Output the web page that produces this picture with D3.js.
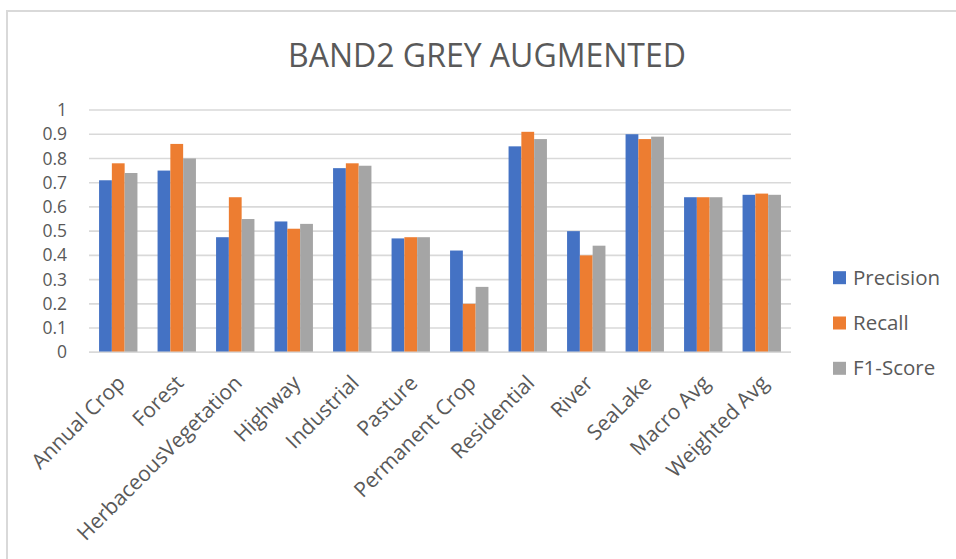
<!DOCTYPE html>
<html>
<head>
<meta charset="utf-8">
<script src="https://cdn.jsdelivr.net/npm/d3@7"></script>
<style>
  html, body { margin: 0; padding: 0; background: #fff; overflow: hidden; }
  svg { display: block; font-family: "Open Sans", "Noto Sans", sans-serif; }
</style>
</head>
<body>
<svg id="chart" width="956" height="559"></svg>
<script>
// Per-class metrics for the BAND2 grey augmented model
const categories = ["Annual Crop", "Forest", "HerbaceousVegetation", "Highway", "Industrial",
  "Pasture", "Permanent Crop", "Residential", "River", "SeaLake", "Macro Avg", "Weighted Avg"];
const precision = [0.71, 0.75, 0.475, 0.54, 0.76, 0.47, 0.42, 0.85, 0.50, 0.90, 0.64, 0.65];
const recall    = [0.78, 0.86, 0.64, 0.51, 0.78, 0.475, 0.20, 0.91, 0.40, 0.88, 0.64, 0.655];
const f1Score   = [0.74, 0.80, 0.55, 0.53, 0.77, 0.475, 0.27, 0.88, 0.44, 0.89, 0.64, 0.65];
const seriesNames = ["Precision", "Recall", "F1-Score"];
const yTicks = [0, 0.1, 0.2, 0.3, 0.4, 0.5, 0.6, 0.7, 0.8, 0.9, 1];

const colors = ["#4472C4", "#ED7D31", "#A5A5A5"];
const series = [precision, recall, f1Score];
const textColor = "#595959";
const gridColor = "#d9d9d9";
const font = "Open Sans, Noto Sans, sans-serif";

const svg = d3.select("#chart");

// Chart frame
svg.append("rect")
  .attr("x", 7).attr("y", 11)
  .attr("width", 1000).attr("height", 600)
  .attr("fill", "none").attr("stroke", gridColor).attr("stroke-width", 2);

const plot = { left: 89, right: 791, top: 110, bottom: 352.3 };

const x = d3.scaleBand()
  .domain(categories)
  .range([plot.left, plot.right])
  .paddingInner(0.344)
  .paddingOuter(0.172);

const xInner = d3.scaleBand()
  .domain(d3.range(series.length))
  .range([0, x.bandwidth()]);

const y = d3.scaleLinear().domain([0, 1]).range([plot.bottom, plot.top]);

// Title
svg.append("text")
  .attr("x", 487).attr("y", 67)
  .attr("text-anchor", "middle")
  .attr("font-size", 32)
  .attr("fill", textColor)
  .text("BAND2 GREY AUGMENTED");

// Gridlines
svg.append("g")
  .selectAll("line")
  .data(yTicks)
  .join("line")
  .attr("x1", plot.left).attr("x2", plot.right)
  .attr("y1", d => y(d)).attr("y2", d => y(d))
  .attr("stroke", gridColor).attr("stroke-width", 1.6);

// Y axis labels
const yAxis = d3.axisLeft(y).tickValues(yTicks).tickSize(0).tickPadding(0)
  .tickFormat(d => d3.format("")(+d.toFixed(1)));
svg.append("g")
  .attr("transform", `translate(${67},0)`)
  .call(yAxis)
  .call(g => g.select(".domain").remove())
  .call(g => g.selectAll("text")
    .attr("fill", textColor)
    .attr("font-size", 17.5)
    .attr("font-family", font));

// Bars
const groups = svg.append("g")
  .selectAll("g")
  .data(categories)
  .join("g")
  .attr("transform", d => `translate(${x(d)},0)`);

groups.selectAll("rect")
  .data((d, i) => series.map((s, k) => ({ k, v: s[i] })))
  .join("rect")
  .attr("x", d => xInner(d.k))
  .attr("width", xInner.bandwidth())
  .attr("y", d => y(d.v))
  .attr("height", d => y(0) - y(d.v))
  .attr("fill", d => colors[d.k]);

// Baseline
svg.append("line")
  .attr("x1", plot.left).attr("x2", plot.right)
  .attr("y1", y(0)).attr("y2", y(0))
  .attr("stroke", gridColor).attr("stroke-width", 1.6);

// X axis category labels (rotated)
const xAxis = d3.axisBottom(x).tickSize(0).tickPadding(0);
svg.append("g")
  .attr("transform", `translate(0,${plot.bottom})`)
  .call(xAxis)
  .call(g => g.select(".domain").remove())
  .call(g => g.selectAll("text")
    .attr("fill", textColor)
    .attr("font-size", 21)
    .attr("font-family", font)
    .attr("text-anchor", "end")
    .attr("dy", null)
    .attr("y", 0)
    .attr("transform", "translate(8,32) rotate(-45)"));

// Legend
const legend = svg.append("g")
  .selectAll("g")
  .data(seriesNames)
  .join("g")
  .attr("transform", (d, i) => `translate(833,${277.7 + i * 45.3})`);
legend.append("rect")
  .attr("x", 0).attr("y", -6.5)
  .attr("width", 13).attr("height", 13)
  .attr("fill", (d, i) => colors[i]);
legend.append("text")
  .attr("x", 20).attr("y", 0)
  .attr("dy", "0.35em")
  .attr("font-size", 20.5)
  .attr("fill", textColor)
  .text(d => d);
</script>
</body>
</html>
